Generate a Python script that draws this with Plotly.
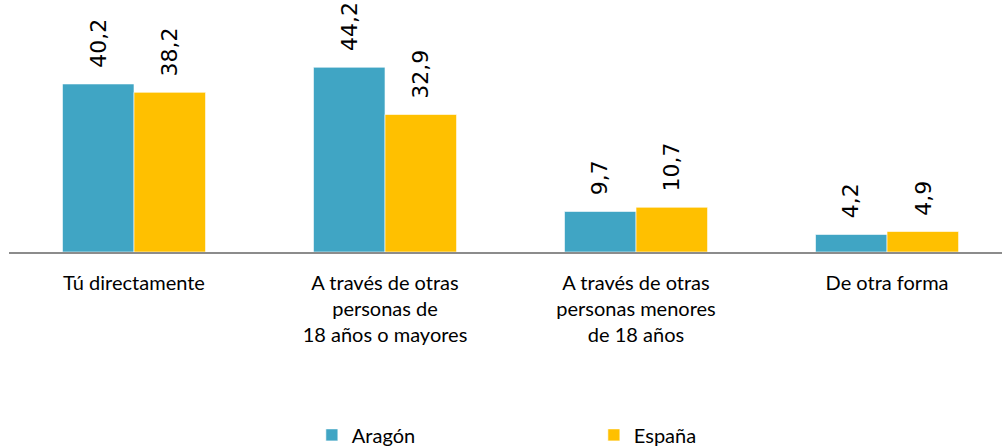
import plotly.graph_objects as go

categories = ["Tú directamente",
              "A través de otras<br>personas de<br>18 años o mayores",
              "A través de otras<br>personas menores<br>de 18 años",
              "De otra forma"]
aragon = [40.2, 44.2, 9.7, 4.2]
espana = [38.2, 32.9, 10.7, 4.9]
series_names = ["Aragón", "España"]
colors = ["#40A5C4", "#FFC000"]

def fmt(v):
    return f"{v:.1f}".replace(".", ",")

fig = go.Figure()
idx = list(range(len(categories)))
for name, vals, col in zip(series_names, [aragon, espana], colors):
    fig.add_trace(go.Bar(
        name=name, x=idx, y=vals,
        marker=dict(color=col, line=dict(color="rgba(255,255,255,0.6)", width=1)),
        hoverinfo="x+y",
    ))

bargap = 0.43
bar_w = (1 - bargap) / 2
annotations = []
for s, vals in enumerate([aragon, espana]):
    off = (s - 0.5) * bar_w
    for i, v in enumerate(vals):
        annotations.append(dict(
            x=i + off, y=v, xref="x", yref="y", text=fmt(v),
            showarrow=False, textangle=-90, yanchor="bottom", xanchor="center",
            yshift=14, font=dict(family="DejaVu Sans", size=22, color="#000000"),
        ))

FONT = "Lato, sans-serif"
fig.update_layout(
    width=1003, height=448,
    margin=dict(l=9, r=1, t=43, b=196, autoexpand=False),
    paper_bgcolor="white", plot_bgcolor="white",
    barmode="group", bargap=bargap, bargroupgap=0,
    showlegend=True,
    legend=dict(orientation="h", x=0.305, xanchor="left", y=-0.875, yanchor="middle",
                font=dict(family=FONT, size=20, color="#000"),
                entrywidth=237, entrywidthmode="pixels", traceorder="normal"),
    annotations=annotations,
    font=dict(family=FONT, size=20, color="#000"),
)
fig.update_xaxes(
    tickmode="array", tickvals=idx, ticktext=categories,
    range=[-0.498, 3.458], showline=True, linecolor="#8C8C8C", linewidth=2,
    showgrid=False, zeroline=False, ticks="", ticklabelstandoff=12,
    tickfont=dict(family=FONT, size=20, color="#000"),
)
fig.update_yaxes(range=[0, 50], visible=False, showgrid=False, zeroline=False)

fig.write_html("out.html", config={"displayModeBar": False},
               post_script="document.body.style.margin='0';")
